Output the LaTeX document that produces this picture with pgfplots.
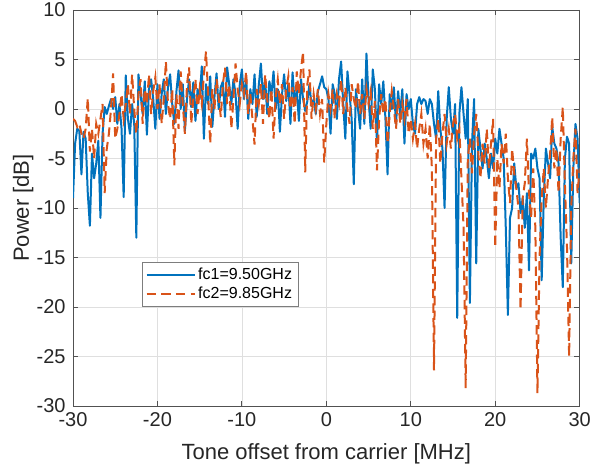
\documentclass[border=0pt]{standalone}
\usepackage{fontspec}
\setmainfont{Liberation Sans}
\usepackage{pgfplots}
\pgfplotsset{compat=1.18}
\definecolor{mblue}{RGB}{0,114,189}
\definecolor{morange}{RGB}{217,83,25}
\definecolor{mgrid}{RGB}{223,223,223}
\definecolor{mtxt}{RGB}{38,38,38}
\begin{document}
\begin{tikzpicture}
\path[use as bounding box] (-54.75pt,-45pt) rectangle (393.75pt,304.5pt);
\begin{axis}[
  scale only axis, width=380pt, height=297pt,
  xmin=-30, xmax=30, ymin=-30, ymax=10,
  xtick={-30,-20,...,30}, ytick={-30,-25,...,10},
  grid=major, grid style={mgrid,line width=0.5pt},
  axis line style={mtxt!80,line width=0.6pt},
  tick style={mtxt!80,line width=0.6pt}, tick align=inside,
  major tick length=4pt,
  ticklabel style={font=\fontsize{15}{17}\selectfont,text=mtxt},
  xticklabel style={yshift=-1pt},
  yticklabel style={xshift=-2pt},
  /pgf/number format/assume math mode=true,
  xlabel={Tone offset from carrier [MHz]}, ylabel={Power [dB]},
  label style={font=\fontsize{16.5}{19}\selectfont,text=mtxt},
  xlabel style={yshift=-6.5pt}, ylabel style={yshift=-4.5pt},
  legend style={at={(0.136,0.364)},anchor=north west,draw=mtxt!60,
    font=\fontsize{12}{14}\selectfont,inner sep=2.5pt,row sep=0pt,
    cells={anchor=west}},
  legend image code/.code={\draw[#1] (0pt,0pt) -- (36pt,0pt);},
]
\addplot[mblue,line width=1.5pt,line join=round] coordinates {
(-30.00,-9.0)(-29.75,-3.5)(-29.50,-2.0)(-29.25,-2.2)(-29.00,-6.6)(-28.75,-2.3)(-28.50,-3.0)(-28.25,-8.5)(-28.00,-11.8)(-27.75,-4.5)
(-27.50,-7.0)(-27.25,-5.5)(-27.00,-3.2)(-26.75,-11.0)(-26.50,-2.5)(-26.25,0.2)(-26.00,-0.5)(-25.75,0.3)(-25.50,1.0)(-25.25,0.0)
(-25.00,1.2)(-24.75,-1.5)(-24.50,0.5)(-24.25,-2.0)(-24.00,-8.9)(-23.75,3.4)(-23.50,-1.0)(-23.25,-2.5)(-23.00,0.5)(-22.75,-1.5)
(-22.50,-13.0)(-22.25,3.5)(-22.00,1.5)(-21.75,-0.5)(-21.50,2.8)(-21.25,-2.6)(-21.00,2.0)(-20.75,3.0)(-20.50,1.0)(-20.25,-2.0)
(-20.00,2.5)(-19.75,-1.0)(-19.50,1.5)(-19.25,3.0)(-19.00,-0.5)(-18.75,2.2)(-18.50,3.5)(-18.25,0.5)(-18.00,-1.5)(-17.75,1.8)
(-17.50,3.9)(-17.25,0.0)(-17.00,2.5)(-16.75,-2.2)(-16.50,1.0)(-16.25,3.0)(-16.00,0.2)(-15.75,2.7)(-15.50,-1.2)(-15.25,2.0)
(-15.00,1.0)(-14.75,4.3)(-14.50,-3.0)(-14.25,2.5)(-14.00,0.5)(-13.75,3.3)(-13.50,-1.8)(-13.25,1.2)(-13.00,3.6)(-12.75,0.0)
(-12.50,2.2)(-12.25,2.8)(-12.00,-0.8)(-11.75,4.2)(-11.50,2.5)(-11.25,0.5)(-11.00,3.0)(-10.75,1.5)(-10.50,-2.0)(-10.25,2.5)
(-10.00,4.0)(-9.75,1.0)(-9.50,3.2)(-9.25,-1.0)(-9.00,2.0)(-8.75,0.5)(-8.50,3.5)(-8.25,-0.8)(-8.00,2.4)(-7.75,4.6)
(-7.50,1.0)(-7.25,3.0)(-7.00,-0.5)(-6.75,2.8)(-6.50,1.5)(-6.25,3.8)(-6.00,0.0)(-5.75,2.0)(-5.50,-2.3)(-5.25,1.5)
(-5.00,3.5)(-4.75,0.8)(-4.50,2.5)(-4.25,-1.5)(-4.00,3.7)(-3.75,0.5)(-3.50,2.0)(-3.25,-1.2)(-3.00,3.0)(-2.75,1.0)
(-2.50,-0.2)(-2.25,0.8)(-2.00,2.5)(-1.75,0.3)(-1.50,1.0)(-1.25,-0.5)(-1.00,1.8)(-0.75,2.5)(-0.50,3.3)(-0.25,2.2)
(0.00,2.0)(0.25,1.0)(0.50,-2.5)(0.75,2.5)(1.00,1.5)(1.25,-1.0)(1.50,3.0)(1.75,4.8)(2.00,0.5)(2.25,-3.0)
(2.50,3.8)(2.75,1.5)(3.00,-1.0)(3.25,-7.6)(3.50,2.0)(3.75,0.0)(4.00,-2.0)(4.25,3.0)(4.50,-1.5)(4.75,5.6)
(5.00,1.0)(5.25,-2.0)(5.50,4.0)(5.75,2.0)(6.00,-3.5)(6.25,2.5)(6.50,0.5)(6.75,2.8)(7.00,-1.0)(7.25,-6.6)
(7.50,1.5)(7.75,0.0)(8.00,2.2)(8.25,-1.5)(8.50,1.8)(8.75,-0.5)(9.00,2.0)(9.25,-3.5)(9.50,1.5)(9.75,0.0)
(10.00,1.0)(10.25,-1.5)(10.50,-2.5)(10.75,0.5)(11.00,1.2)(11.25,0.5)(11.50,1.0)(11.75,0.8)(12.00,-0.5)(12.25,1.0)
(12.50,0.5)(12.75,-1.5)(13.00,-3.0)(13.25,1.8)(13.50,-2.0)(13.75,-4.0)(14.00,-10.0)(14.25,-1.0)(14.50,2.2)(14.75,-1.0)
(15.00,-2.5)(15.25,0.5)(15.50,-21.1)(15.75,-0.5)(16.00,2.2)(16.25,-0.5)(16.50,-3.0)(16.75,1.0)(17.00,-19.6)(17.25,-3.5)
(17.50,1.0)(17.75,-15.6)(18.00,-2.0)(18.25,-4.0)(18.50,-6.0)(18.75,-3.5)(19.00,-5.0)(19.25,-7.0)(19.50,-4.5)(19.75,-6.0)
(20.00,-3.0)(20.25,-4.5)(20.50,-2.0)(20.75,-3.5)(21.00,-5.0)(21.25,-12.0)(21.50,-20.8)(21.75,-11.0)(22.00,-10.0)(22.25,-5.5)
(22.50,-8.0)(22.75,-7.5)(23.00,-10.5)(23.25,-9.0)(23.50,-12.0)(23.75,-8.5)(24.00,-16.3)(24.25,-4.5)(24.50,-5.0)(24.75,-4.0)
(25.00,-6.0)(25.25,-7.0)(25.50,-17.3)(25.75,-9.0)(26.00,-4.0)(26.25,-5.5)(26.50,-7.0)(26.75,-1.8)(27.00,-3.5)(27.25,-4.0)
(27.50,-5.5)(27.75,-13.0)(28.00,-18.0)(28.25,-5.0)(28.50,-2.8)(28.75,-3.5)(29.00,-15.6)(29.25,-6.0)(29.50,-1.5)(29.75,-3.0)
(30.00,-9.5)
};
\addlegendentry{fc1=9.50GHz}
\addplot[morange,line width=1.5pt,dash pattern=on 7pt off 4pt] coordinates {
(-30.00,-1.0)(-29.75,-1.2)(-29.50,-1.8)(-29.25,-1.5)(-29.00,-2.5)(-28.75,-3.0)(-28.50,-2.0)(-28.25,1.1)(-28.00,-4.3)(-27.75,-2.0)
(-27.50,-5.0)(-27.25,-1.5)(-27.00,-2.5)(-26.75,-1.0)(-26.50,0.5)(-26.25,-8.5)(-26.00,-4.0)(-25.75,-2.5)(-25.50,0.0)(-25.25,3.6)
(-25.00,-3.0)(-24.75,-2.0)(-24.50,-0.5)(-24.25,1.5)(-24.00,-1.0)(-23.75,0.5)(-23.50,2.5)(-23.25,-0.5)(-23.00,3.5)(-22.75,0.0)
(-22.50,-2.5)(-22.25,1.5)(-22.00,3.0)(-21.75,-1.5)(-21.50,2.0)(-21.25,0.5)(-21.00,3.5)(-20.75,-0.5)(-20.50,1.8)(-20.25,3.2)
(-20.00,0.0)(-19.75,2.5)(-19.50,-1.5)(-19.25,1.0)(-19.00,4.8)(-18.75,0.5)(-18.50,-1.0)(-18.25,2.0)(-18.00,-5.7)(-17.75,1.5)
(-17.50,-2.0)(-17.25,3.8)(-17.00,0.5)(-16.75,-2.5)(-16.50,2.5)(-16.25,4.2)(-16.00,-1.5)(-15.75,1.0)(-15.50,3.0)(-15.25,-0.5)
(-15.00,2.0)(-14.75,0.5)(-14.50,3.5)(-14.25,5.8)(-14.00,1.5)(-13.75,-3.5)(-13.50,2.0)(-13.25,0.0)(-13.00,3.0)(-12.75,1.2)
(-12.50,-0.8)(-12.25,2.5)(-12.00,4.2)(-11.75,0.5)(-11.50,2.5)(-11.25,-2.0)(-11.00,1.0)(-10.75,4.6)(-10.50,2.0)(-10.25,0.5)
(-10.00,2.5)(-9.75,1.5)(-9.50,3.8)(-9.25,-0.5)(-9.00,1.5)(-8.75,-1.0)(-8.50,-3.6)(-8.25,2.0)(-8.00,0.5)(-7.75,2.5)
(-7.50,-1.5)(-7.25,3.5)(-7.00,1.0)(-6.75,-1.0)(-6.50,2.0)(-6.25,-3.0)(-6.00,1.2)(-5.75,3.0)(-5.50,0.5)(-5.25,2.5)
(-5.00,-1.0)(-4.75,2.0)(-4.50,3.3)(-4.25,0.0)(-4.00,2.2)(-3.75,-1.5)(-3.50,3.8)(-3.25,1.5)(-3.00,4.0)(-2.75,5.8)
(-2.50,-6.4)(-2.25,2.5)(-2.00,4.0)(-1.75,-1.0)(-1.50,1.5)(-1.25,0.0)(-1.00,2.0)(-0.75,-0.5)(-0.50,1.0)(-0.25,-5.4)
(0.00,-1.5)(0.25,1.5)(0.50,0.0)(0.75,2.0)(1.00,-1.0)(1.25,1.5)(1.50,0.5)(1.75,3.0)(2.00,-0.5)(2.25,2.2)
(2.50,0.0)(2.75,-1.5)(3.00,2.5)(3.25,1.0)(3.50,0.0)(3.75,2.8)(4.00,-0.5)(4.25,1.5)(4.50,-1.0)(4.75,2.0)
(5.00,0.5)(5.25,1.8)(5.50,-2.0)(5.75,0.8)(6.00,-6.2)(6.25,-1.0)(6.50,1.5)(6.75,-0.5)(7.00,1.0)(7.25,-3.5)
(7.50,-0.5)(7.75,1.8)(8.00,0.0)(8.25,-2.0)(8.50,1.0)(8.75,-1.5)(9.00,0.5)(9.25,-1.0)(9.50,1.0)(9.75,-2.5)
(10.00,-1.0)(10.25,-3.0)(10.50,-1.5)(10.75,-4.0)(11.00,-2.0)(11.25,-0.5)(11.50,-3.5)(11.75,-2.0)(12.00,-5.0)(12.25,-1.5)
(12.50,-6.0)(12.75,-26.4)(13.00,-3.0)(13.25,-1.0)(13.50,-5.5)(13.75,-2.5)(14.00,-0.5)(14.25,-3.5)(14.50,-2.0)(14.75,-4.0)
(15.00,-1.5)(15.25,-0.5)(15.50,-3.0)(15.75,-2.0)(16.00,-7.0)(16.25,-12.0)(16.50,-28.2)(16.75,-5.0)(17.00,-3.0)(17.25,-6.5)
(17.50,-2.5)(17.75,-0.5)(18.00,-4.5)(18.25,-7.0)(18.50,-3.5)(18.75,-5.5)(19.00,-2.0)(19.25,-6.0)(19.50,-3.5)(19.75,-1.0)
(20.00,-14.0)(20.25,-5.0)(20.50,-8.0)(20.75,-3.5)(21.00,-5.5)(21.25,-2.5)(21.50,-7.0)(21.75,-9.5)(22.00,-4.0)(22.25,-6.5)
(22.50,-8.0)(22.75,-10.0)(23.00,-20.3)(23.25,-9.0)(23.50,-7.5)(23.75,-3.0)(24.00,-8.5)(24.25,-11.0)(24.50,-6.0)(24.75,-12.0)
(25.00,-28.7)(25.25,-15.0)(25.50,-9.0)(25.75,-6.0)(26.00,-10.0)(26.25,-7.0)(26.50,-4.5)(26.75,-0.8)(27.00,-6.0)(27.25,-4.0)
(27.50,-8.5)(27.75,-3.0)(28.00,0.2)(28.25,-7.5)(28.50,-14.0)(28.75,-25.0)(29.00,-10.0)(29.25,-5.0)(29.50,-2.0)(29.75,-8.5)
(30.00,-6.0)
};
\addlegendentry{fc2=9.85GHz}
\end{axis}
\end{tikzpicture}
\end{document}
